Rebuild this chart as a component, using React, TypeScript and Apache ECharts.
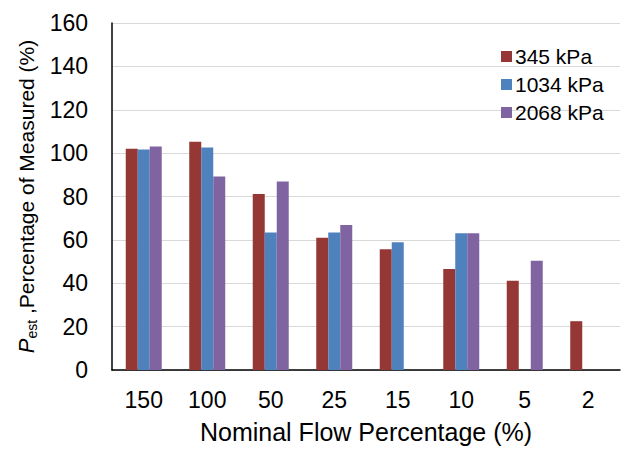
import React, { useEffect, useRef } from "react";
import * as echarts from "echarts";

const categories = ["150", "100", "50", "25", "15", "10", "5", "2"];
const seriesNames = ["345 kPa", "1034 kPa", "2068 kPa"];
const values345 = [102, 105.3, 81.2, 61, 55.7, 46.6, 41.1, 22.5];
const values1034 = [101.7, 102.6, 63.4, 63.4, 58.9, 63.1, null, null];
const values2068 = [103, 89.2, 86.9, 66.9, null, 63.1, 50.4, null];
const colors = ["#953735", "#4F81BD", "#8064A2"];
const yTicks = { min: 0, max: 160, interval: 20 };

const FONT = "Liberation Sans, Arial, sans-serif";

export default function App() {
  const ref = useRef<HTMLDivElement>(null);
  useEffect(() => {
    if (!ref.current) return;
    const chart = echarts.init(ref.current, null, { renderer: "svg" });
    const data = [values345, values1034, values2068];
    chart.setOption({
      animation: false,
      backgroundColor: "#ffffff",
      textStyle: { fontFamily: FONT, color: "#000" },
      grid: {
        left: 112,
        right: 2,
        top: 23,
        bottom: 85,
        containLabel: false,
        outerBoundsMode: "none",
      },
      legend: {
        orient: "vertical",
        left: 496,
        top: 41,
        itemWidth: 11,
        itemHeight: 11,
        itemGap: 7,
        icon: "rect",
        textStyle: { fontSize: 21, fontFamily: FONT, color: "#000", padding: [0, 0, 0, -2] },
        data: seriesNames,
      },
      xAxis: {
        type: "category",
        data: categories,
        name: "Nominal Flow Percentage (%)",
        nameLocation: "middle",
        nameGap: 49,
        nameTextStyle: { fontSize: 25, fontFamily: FONT, color: "#000" },
        axisLine: { lineStyle: { color: "#000", width: 1.5 } },
        axisTick: { show: false },
        axisLabel: { fontSize: 23, fontFamily: FONT, color: "#000", margin: 18 },
      },
      yAxis: {
        type: "value",
        min: yTicks.min,
        max: yTicks.max,
        interval: yTicks.interval,
        name: "{i|P}{sub|est}{n| ,Percentage of Measured (%)}",
        nameLocation: "middle",
        nameGap: 66,
        nameTextStyle: {
          fontFamily: FONT,
          color: "#000",
          rich: {
            i: { fontSize: 22, fontStyle: "italic", fontFamily: FONT, color: "#000" },
            sub: { fontSize: 14, fontFamily: FONT, color: "#000", padding: [10, 0, 0, 0] },
            n: { fontSize: 21, fontFamily: FONT, color: "#000" },
          },
        },
        axisLine: { show: true, lineStyle: { color: "#000", width: 1.5 } },
        axisTick: { show: false },
        axisLabel: { fontSize: 23, fontFamily: FONT, color: "#000", margin: 24 },
        splitLine: { lineStyle: { color: "#d9d9d9", width: 1 } },
      },
      series: seriesNames.map((name, i) => ({
        name,
        type: "bar",
        data: data[i].map((v) => (v === null ? "-" : v)),
        barWidth: 12,
        barGap: "0%",
        itemStyle: { color: colors[i] },
      })),
    });
    return () => chart.dispose();
  }, []);
  return (
    <div
      ref={ref}
      style={{ position: "fixed", left: 0, top: 0, width: 622, height: 455 }}
    />
  );
}
